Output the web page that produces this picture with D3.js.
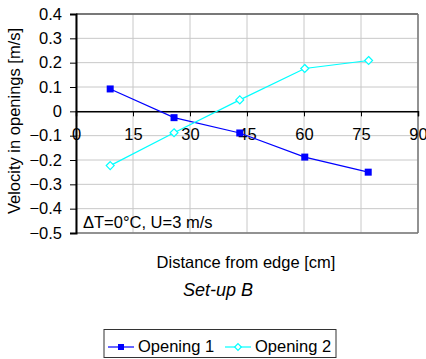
<!DOCTYPE html>
<html><head><meta charset="utf-8">
<script src="https://cdn.jsdelivr.net/npm/d3@7"></script>
<style>
body{margin:0;background:#fff;}
text{font-family:"Liberation Sans",Arial,sans-serif;fill:#000;}
</style></head>
<body><svg id="c" width="426" height="359"></svg>
<script>
const seriesNames = ["Opening 1", "Opening 2"];
const distance1 = [9.0, 25.8, 43.1, 60.2, 76.9];
const opening1 = [0.092, -0.026, -0.089, -0.188, -0.250];
const distance2 = [9.0, 25.8, 43.1, 60.2, 77.0];
const opening2 = [-0.223, -0.088, 0.047, 0.176, 0.209];
const xTicks = [0, 15, 30, 45, 60, 75, 90];
const yTicks = [-0.5, -0.4, -0.3, -0.2, -0.1, 0, 0.1, 0.2, 0.3, 0.4];
const xTitle = "Distance from edge [cm]";
const yTitle = "Velocity in openings [m/s]";
const subtitle = "Set-up B";
const annotation = "\u0394T=0\u00B0C, U=3 m/s";

const FS = 16.5;
const svg = d3.select("#c");
const L = 76, R = 418, T = 14, B = 233;
const x = d3.scaleLinear().domain([0, 90]).range([L, R]);
const y = d3.scaleLinear().domain([-0.5, 0.4]).range([B, T]);

// gridlines
const g = svg.append("g");
g.selectAll(".hg").data(yTicks).enter().append("line")
  .attr("x1", L).attr("x2", R).attr("y1", d => y(d)).attr("y2", d => y(d))
  .attr("stroke", "#c8c8c8").attr("stroke-width", 1);
g.selectAll(".vg").data(xTicks).enter().append("line")
  .attr("x1", d => x(d)).attr("x2", d => x(d)).attr("y1", T).attr("y2", B)
  .attr("stroke", "#c8c8c8").attr("stroke-width", 1);
// frame
svg.append("line").attr("x1", L).attr("x2", R).attr("y1", T).attr("y2", T).attr("stroke", "#555").attr("stroke-width", 1.5);
svg.append("line").attr("x1", R).attr("x2", R).attr("y1", T).attr("y2", B).attr("stroke", "#777").attr("stroke-width", 1.5);
svg.append("line").attr("x1", L).attr("x2", R).attr("y1", B).attr("y2", B).attr("stroke", "#777").attr("stroke-width", 1.5);

// y axis
const yAxis = d3.axisLeft(y).tickValues(yTicks).tickSize(6).tickPadding(8)
  .tickFormat(d => d === 0 ? "0" : d3.format(".1f")(d));
const ya = svg.append("g").attr("transform", `translate(${L},0)`).call(yAxis);
ya.select(".domain").attr("stroke", "#000").attr("stroke-width", 2);
ya.selectAll(".tick line").attr("stroke", "#000");
ya.selectAll("text").attr("font-size", FS).attr("font-family", "Liberation Sans, Arial, sans-serif").attr("fill", "#000");

// x axis on zero line
const xAxis = d3.axisBottom(x).tickValues(xTicks).tickSize(5).tickPadding(12).tickFormat(d3.format("d"));
const xa = svg.append("g").attr("transform", `translate(0,${y(0)})`).call(xAxis);
xa.select(".domain").attr("stroke", "#000").attr("stroke-width", 1.5);
xa.selectAll(".tick line").attr("stroke", "#000");
xa.selectAll("text").attr("font-size", FS).attr("font-family", "Liberation Sans, Arial, sans-serif").attr("fill", "#000");

// lines
const line = d3.line().x(d => x(d[0])).y(d => y(d[1]));
const s1 = distance1.map((d, i) => [d, opening1[i]]);
const s2 = distance2.map((d, i) => [d, opening2[i]]);
svg.append("path").datum(s1).attr("d", line).attr("fill", "none").attr("stroke", "#0000ff").attr("stroke-width", 1.2);
svg.append("path").datum(s2).attr("d", line).attr("fill", "none").attr("stroke", "#00ffff").attr("stroke-width", 1.2);
svg.selectAll(".m1").data(s1).enter().append("rect")
  .attr("x", d => x(d[0]) - 3.5).attr("y", d => y(d[1]) - 3.5).attr("width", 7).attr("height", 7)
  .attr("fill", "#0000ff");
const diamond = d3.symbol().type(d3.symbolDiamond2).size(40);
svg.selectAll(".m2").data(s2).enter().append("path")
  .attr("transform", d => `translate(${x(d[0])},${y(d[1])})`)
  .attr("d", diamond).attr("fill", "#fff").attr("stroke", "#00ffff").attr("stroke-width", 1.2);

// annotation
svg.append("text").attr("x", 83).attr("y", 228).attr("font-size", FS).text(annotation);

// titles
svg.append("text").attr("transform", "translate(20,121) rotate(-90)").attr("text-anchor", "middle")
  .attr("font-size", FS).text(yTitle);
svg.append("text").attr("x", 246).attr("y", 268).attr("text-anchor", "middle").attr("font-size", FS).text(xTitle);
svg.append("text").attr("x", 218).attr("y", 296).attr("text-anchor", "middle").attr("font-size", 18)
  .attr("font-style", "italic").text(subtitle);

// legend
const lg = svg.append("g");
lg.append("rect").attr("x", 104).attr("y", 329.5).attr("width", 232).attr("height", 28)
  .attr("fill", "#fff").attr("stroke", "#333").attr("stroke-width", 1);
const items = [
  {name: seriesNames[0], x0: 108, color: "#0000ff", type: "sq"},
  {name: seriesNames[1], x0: 225, color: "#00ffff", type: "dm"}
];
const ly = 347;
items.forEach(it => {
  lg.append("line").attr("x1", it.x0).attr("x2", it.x0 + 26).attr("y1", ly).attr("y2", ly)
    .attr("stroke", it.color).attr("stroke-width", 1.2);
  if (it.type === "sq") {
    lg.append("rect").attr("x", it.x0 + 13 - 3).attr("y", ly - 3).attr("width", 6).attr("height", 6).attr("fill", it.color);
  } else {
    lg.append("path").attr("transform", `translate(${it.x0 + 13},${ly})`)
      .attr("d", d3.symbol().type(d3.symbolDiamond2).size(28)).attr("fill", "#fff").attr("stroke", it.color).attr("stroke-width", 1.2);
  }
  lg.append("text").attr("x", it.x0 + 30).attr("y", ly + 5).attr("font-size", FS).text(it.name);
});
</script></body></html>
